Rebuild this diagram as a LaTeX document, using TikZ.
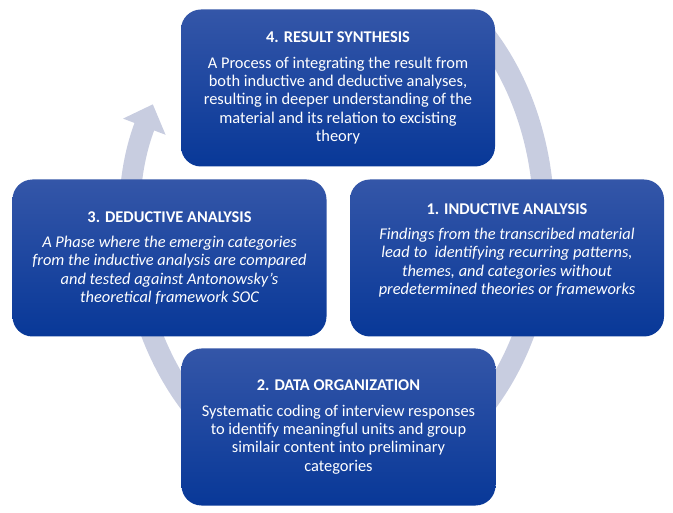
\documentclass[tikz,border=0pt]{standalone}
\usepackage{fontspec}
\setmainfont{Carlito}
\usetikzlibrary{arrows.meta, calc}

\definecolor{ringgray}{RGB}{200,205,224}
\definecolor{boxtop}{RGB}{52,86,168}
\definecolor{boxbot}{RGB}{8,56,152}

\begin{document}
\begin{tikzpicture}[
  x=1pt, y=-1pt,
  phase/.style ={rounded corners=20pt, top color=boxtop, bottom color=boxbot,
                 minimum width=314pt, minimum height=157pt, inner sep=0pt,
                 text=white, align=center, font=\fontsize{16.4}{18.3}\selectfont},
  ring/.style  ={line width=21pt, ringgray,
                 -{Triangle[width=44pt, length=24pt]}},
]
\useasboundingbox (0,0) rectangle (673,513);

%% ---- Cycle arrow (behind the boxes) ----
\coordinate (hub) at (338,220);
\begin{scope}
  \clip (0,0) rectangle (673,513);
  \draw[ring] ($(hub)+(310:206 and 264)$) arc[start angle=310, end angle=566,
                                           x radius=206, y radius=264];
\end{scope}

%% ---- Phases ----
\node[phase] (synth) at (338,88)
  {\textbf{4. RESULT SYNTHESIS}\\[7pt]
   A Process of integrating the result from\\
   both inductive and deductive analyses,\\
   resulting in deeper understanding of the\\
   material and its relation to excisting\\
   theory};

\node[phase] (induct) at (507,258)
  {\textbf{1. INDUCTIVE ANALYSIS}\\[7pt]
   \itshape Findings from the transcribed material\\
   \itshape lead to\ \ identifying recurring patterns,\\
   \itshape themes, and categories without\\
   \itshape predetermined theories or frameworks\\
   \mbox{}};

\node[phase] (deduct) at (169.5,258)
  {\textbf{3. DEDUCTIVE ANALYSIS}\\[7pt]
   \itshape A Phase where the emergin categories\\
   \itshape from the inductive analysis are compared\\
   \itshape and tested against Antonowsky’s\\
   \itshape theoretical framework SOC};

\node[phase] (organ) at (338.5,427)
  {\textbf{2. DATA ORGANIZATION}\\[7pt]
   Systematic coding of interview responses\\
   to identify meaningful units and group\\
   similair content into preliminary\\
   categories};

\end{tikzpicture}
\end{document}
